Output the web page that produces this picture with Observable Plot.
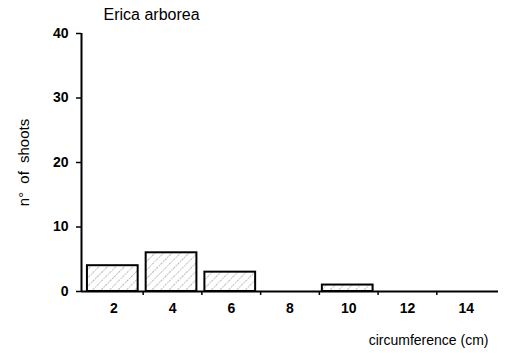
<!DOCTYPE html>
<html>
<head>
<meta charset="utf-8">
<script src="https://cdn.jsdelivr.net/npm/d3@7"></script>
<script src="https://cdn.jsdelivr.net/npm/@observablehq/plot@0.6"></script>
<style>
  html, body { margin: 0; padding: 0; background: #fff; }
  svg { font-family: "Liberation Sans", Arial, Helvetica, sans-serif; }
</style>
</head>
<body>
<div id="chart"></div>
<script>
// Data
const classes = [2, 4, 6, 8, 10, 12, 14];      // circumference class centers (cm)
const shoots  = [4, 6, 3, 0, 1, 0, 0];         // n° of shoots
const yTicks  = [0, 10, 20, 30, 40];
const xBoundaryTicks = [3, 5, 7, 9, 11, 13];
const title = "Erica arborea";
const yLabel = "n° of shoots";
const xLabel = "circumference (cm)";

const data = classes.map((c, i) => ({c, n: shoots[i]}));

const chart = Plot.plot({
  width: 515,
  height: 353,
  marginLeft: 81,
  marginRight: 17,
  marginTop: 33,
  marginBottom: 62,
  x: {domain: [0.9, 15.1], axis: null},
  y: {domain: [0, 40], axis: null},
  marks: [
    Plot.rectY(data.filter(d => d.n > 0), {
      x1: d => d.c - 1, x2: d => d.c + 1, y1: 0, y2: "n",
      insetLeft: 3, insetRight: 5,
      fill: "url(#hatch)", stroke: "black", strokeWidth: 2
    }),
    Plot.ruleY([0], {stroke: "black", strokeWidth: 2}),
    Plot.ruleX([0.9], {y1: 0, y2: 40, stroke: "black", strokeWidth: 2}),
    Plot.axisY({
      ticks: yTicks, tickSize: 5, tickPadding: 8, strokeWidth: 1.5,
      fontSize: 14, fontWeight: "bold", label: null
    }),
    Plot.axisX({
      ticks: xBoundaryTicks, tickSize: 4, strokeWidth: 1.5, tickFormat: () => "", label: null
    }),
    Plot.axisX({
      ticks: classes, tickSize: 0, tickPadding: 12,
      fontSize: 14, fontWeight: "bold", label: null
    }),
    Plot.text([title], {
      frameAnchor: "top-left", textAnchor: "start", lineAnchor: "middle",
      dx: 22, dy: -19, fontSize: 16
    }),
    Plot.text([yLabel], {
      frameAnchor: "left", rotate: -90, textAnchor: "middle", lineAnchor: "middle",
      dx: -57, fontSize: 15
    }),
    Plot.text([xLabel], {
      frameAnchor: "bottom-right", textAnchor: "end", lineAnchor: "middle",
      dx: -10, dy: 49, fontSize: 14
    })
  ]
});

d3.select(chart).insert("defs", ":first-child").html(`
  <pattern id="hatch" patternUnits="userSpaceOnUse" width="6" height="6" patternTransform="rotate(45)">
    <rect width="6" height="6" fill="white"/>
    <line x1="0" y1="0" x2="0" y2="6" stroke="#777" stroke-width="1" stroke-dasharray="1.5 1"/>
  </pattern>`);
d3.select(chart).selectAll("text").filter(function() { return this.textContent === yLabel; })
  .style("word-spacing", "4px");

document.getElementById("chart").appendChild(chart);
</script>
</body>
</html>
